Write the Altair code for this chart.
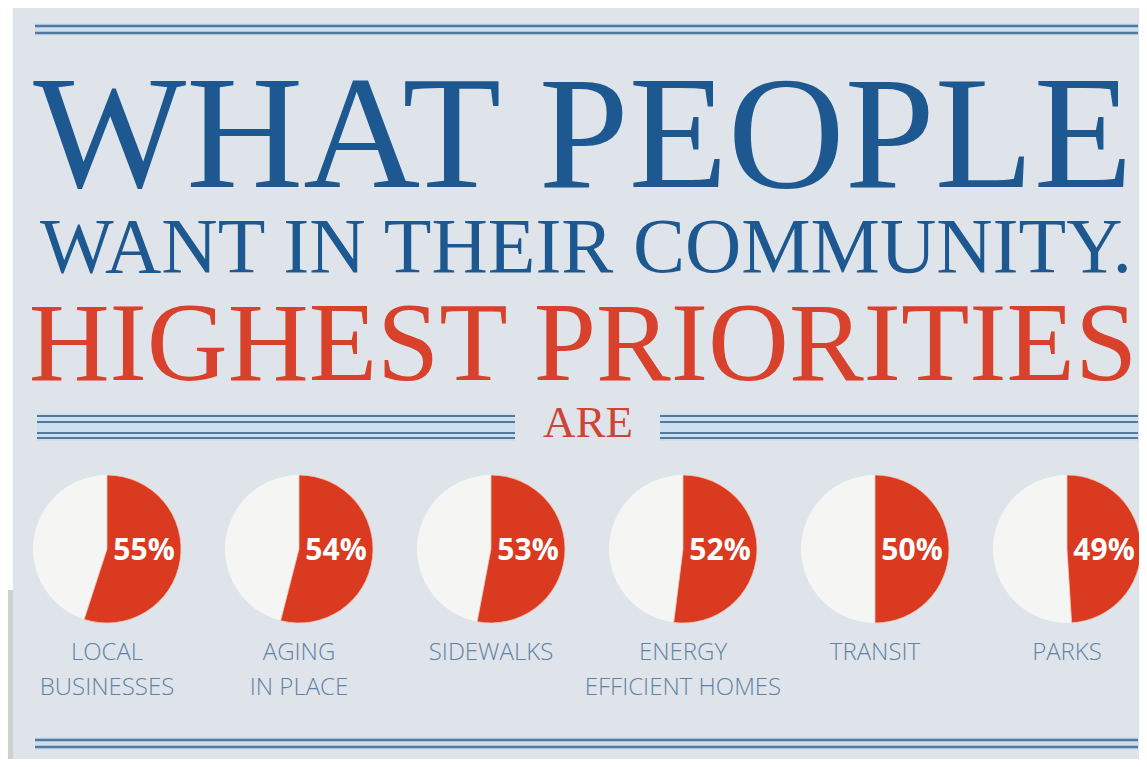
import math
import altair as alt
import pandas as pd

# ---- data ----
labels = ["LOCAL\nBUSINESSES", "AGING\nIN PLACE", "SIDEWALKS",
          "ENERGY\nEFFICIENT HOMES", "TRANSIT", "PARKS"]
pcts = [55, 54, 53, 52, 50, 49]
title_lines = ["WHAT PEOPLE", "WANT IN THEIR COMMUNITY.", "HIGHEST PRIORITIES", "ARE"]

df = pd.DataFrame({"label": labels, "pct": pcts})
dummy = pd.DataFrame({"d": [0]})

W, H = 1131, 751
BG = "#dfe4ea"
BLUE = "#1e5891"
RED = "#d8412b"
LINE = "#55789b"
GLOW = "#cadff0"
PIE_RED = "#d93a20"
PIE_WHITE = "#f5f5f3"
LABEL = "#5f82a6"

OFF = 8  # page margin: reference pixel -> chart pixel


def hline(y, x1, x2, color=LINE, width=2.5):
    return alt.Chart(dummy).mark_rule(color=color, strokeWidth=width).encode(
        x=alt.value(x1 - OFF), x2=alt.value(x2 - OFF), y=alt.value(y - OFF))


def band(y1, y2, x1, x2, color=GLOW):
    return alt.Chart(dummy).mark_rect(color=color).encode(
        x=alt.value(x1 - OFF), x2=alt.value(x2 - OFF),
        y=alt.value(y1 - OFF), y2=alt.value(y2 - OFF))


def title_text(txt, x, y, size, color):
    return alt.Chart(dummy).mark_text(
        text=txt, font="Liberation Serif", fontSize=size, color=color,
        align="center", baseline="alphabetic").encode(
        x=alt.value(x - OFF), y=alt.value(y - OFF))


layers = []
# left edge strips
layers.append(alt.Chart(dummy).mark_rect(color="#ffffff").encode(
    x=alt.value(0), x2=alt.value(5), y=alt.value(0), y2=alt.value(582)))
layers.append(alt.Chart(dummy).mark_rect(color="#cfcfcf").encode(
    x=alt.value(0), x2=alt.value(5), y=alt.value(582), y2=alt.value(H)))

# top double rule
layers.append(band(23.5, 35.5, 35, 1138))
layers += [hline(26, 35, 1138), hline(33, 35, 1138)]

# ARE rules
for x1, x2 in [(37, 515), (660, 1138)]:
    layers.append(band(413.5, 441, x1, x2))
    for yy in [416, 422, 433, 438]:
        layers.append(hline(yy, x1, x2, width=2.2))

# bottom double rule
layers.append(band(737, 750, 35, 1138))
layers += [hline(740, 35, 1138), hline(747, 35, 1138)]

# title text
layers.append(title_text(title_lines[0], 583, 187, 162, BLUE))
layers.append(title_text(title_lines[1], 586, 272, 78, BLUE))
layers.append(title_text(title_lines[2], 583, 380, 112, RED))
layers.append(title_text(title_lines[3], 588, 437, 45, "#cf4535"))

# pies
base = alt.Chart(df).encode(
    x=alt.X("label:N", sort=labels,
            scale=alt.Scale(type="point", range=[107 - OFF, 1067 - OFF], padding=0),
            axis=None))

white = base.mark_arc(outerRadius=74, color=PIE_WHITE).encode(
    y=alt.value(549 - OFF), theta=alt.value(0), theta2=alt.value(2 * math.pi))
red = base.mark_arc(outerRadius=74, color=PIE_RED, stroke="#f0c8b8", strokeWidth=0.8).encode(
    y=alt.value(549 - OFF),
    theta=alt.Theta("pct:Q", scale=alt.Scale(domain=[0, 100], range=[0, 2 * math.pi]), stack=None),
    theta2=alt.value(0))
pct_text = base.transform_calculate(t="datum.pct + '%'").mark_text(
    font="Open Sans", fontWeight="bold", fontSize=30,
    color="#ffffff", align="center", baseline="middle", dx=37).encode(
    y=alt.value(551 - OFF), text="t:N")
lab_text = base.mark_text(
    font="Open Sans", fontWeight=300, fontSize=24, color=LABEL,
    align="center", baseline="alphabetic", lineBreak="\n", lineHeight=35).encode(
    y=alt.value(660 - OFF), text="label:N")

layers += [white, red, pct_text, lab_text]

chart = alt.layer(*layers).properties(
    width=W, height=H, background=BG, padding=0,
    autosize=alt.AutoSizeParams(type="none"),
).configure_view(stroke=None)

chart.save("out.html", embed_options={"renderer": "svg", "actions": False})
